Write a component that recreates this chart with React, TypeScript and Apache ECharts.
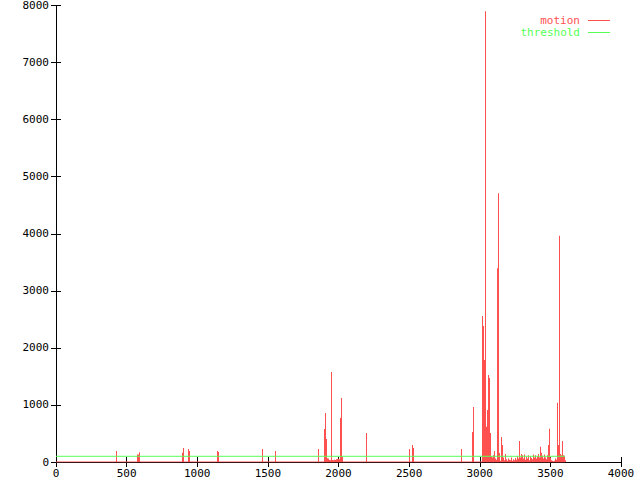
import React, { useEffect, useRef } from "react";
import * as echarts from "echarts";

const motionX = [
  427, 573, 581, 590, 890, 897, 937, 944, 1142, 1149, 1461, 1553, 1857, 1900, 1907, 1914, 1919, 1926, 1933,
  1940, 1949, 1954, 1961, 1968, 1975, 1982, 1989, 1997, 2004, 2013, 2020, 2025, 2193, 2501, 2523, 2530, 2870,
  2948, 2955, 3016, 3023, 3030, 3037, 3044, 3051, 3058, 3065, 3072,
  3080, 3087, 3094, 3101, 3108, 3115, 3122, 3129, 3136, 3144, 3151, 3158, 3165, 3172, 3179, 3186, 3193, 3200,
  3207, 3214, 3221, 3228, 3235, 3243, 3250, 3257, 3264, 3271, 3278, 3285, 3292, 3299, 3306, 3313, 3320, 3328,
  3335, 3342, 3349, 3356, 3363, 3370, 3377, 3384, 3391, 3398, 3405, 3413, 3420, 3427, 3434, 3441, 3448, 3455,
  3462, 3469, 3476, 3483, 3490, 3498, 3505, 3512, 3519, 3526, 3533, 3540, 3547, 3554, 3561, 3568, 3575, 3582,
  3589, 3597, 3604,
];
const motionY = [
  193, 130, 130, 170, 163, 245, 228, 193, 193, 175, 228, 193, 228, 578, 858, 403, 65, 60, 35,
  30, 1576, 35, 30, 40, 35, 50, 52, 55, 50, 770, 1121, 93, 508, 228, 298, 245, 228,
  525, 963, 2557, 2382, 1786, 7900, 618, 911, 1524, 1470, 508,
  100, 80, 120, 193, 60, 40, 3397, 4711, 158, 20, 438, 298, 80, 30, 140, 50, 20, 60,
  40, 30, 80, 20, 50, 30, 70, 40, 100, 60, 368, 80, 140, 120, 60, 130, 40, 90,
  60, 120, 30, 100, 70, 50, 130, 80, 120, 60, 100, 140, 80, 268, 163, 110, 60, 130,
  80, 50, 120, 298, 583, 80, 30, 20, 10, 20, 60, 40, 1039, 298, 3963, 140, 120, 368,
  120, 110, 30,
];
const thresholdValue = 100;
const dataStartX = 0;
const dataEndX = 3604;
const xTicks = { min: 0, max: 4000, interval: 500 };
const yTicks = { min: 0, max: 8000, interval: 1000 };

const RED = "#ff5050";
const GREEN = "#55ff55";
const FONT = "DejaVu Sans Mono";

export default function App() {
  const ref = useRef<HTMLDivElement>(null);
  useEffect(() => {
    if (!ref.current) return;
    const chart = echarts.init(ref.current, null, { renderer: "svg" });
    const motionData = motionX.map((x, i) => [x, motionY[i]]);
    const plain = (v: number) => String(v);
    const axisCommon = {
      type: "value" as const,
      axisLine: { show: true, lineStyle: { color: "#000", width: 1 } },
      axisTick: { show: true, inside: true, length: 5, lineStyle: { color: "#000" } },
      splitLine: { show: false },
    };
    chart.setOption({
      animation: false,
      backgroundColor: "#fff",
      grid: { left: 56, right: 19, top: 5, bottom: 18, containLabel: false },
      legend: {
        orient: "vertical",
        right: 30,
        top: 15,
        padding: 0,
        align: "right",
        itemWidth: 22,
        itemHeight: 1,
        itemGap: 1,
        icon: "rect",
        textStyle: { fontFamily: FONT, fontSize: 11, padding: [0, 3, 0, 0] },
        data: [
          { name: "motion", textStyle: { color: RED } },
          { name: "threshold", textStyle: { color: GREEN } },
        ],
      },
      xAxis: [
        {
          ...axisCommon,
          min: xTicks.min,
          max: xTicks.max,
          interval: xTicks.interval,
          axisLabel: { color: "#000", fontFamily: FONT, fontSize: 11, margin: 6, formatter: plain },
        },
        {
          ...axisCommon,
          position: "top",
          min: xTicks.min,
          max: xTicks.max,
          interval: xTicks.interval,
          axisLabel: { show: false },
        },
      ],
      yAxis: [
        {
          ...axisCommon,
          min: yTicks.min,
          max: yTicks.max,
          interval: yTicks.interval,
          axisLabel: { color: "#000", fontFamily: FONT, fontSize: 11, margin: 7, formatter: plain },
        },
        {
          ...axisCommon,
          position: "right",
          min: yTicks.min,
          max: yTicks.max,
          interval: yTicks.interval,
          axisLabel: { show: false },
        },
      ],
      series: [
        {
          name: "motion",
          type: "custom",
          itemStyle: { color: RED },
          data: motionData,
          z: 3,
          renderItem: (params: any, api: any) => {
            const x = api.value(0);
            const y = api.value(1);
            const top = api.coord([x, y]);
            const base = api.coord([x, 0]);
            const px = Math.round(top[0]);
            return {
              type: "rect",
              shape: { x: px, y: top[1], width: 1, height: base[1] - top[1] },
              style: { fill: RED },
            };
          },
        },
        {
          name: "motionBase",
          type: "line",
          data: [
            [dataStartX, 0],
            [dataEndX, 0],
          ],
          symbol: "none",
          lineStyle: { color: RED, width: 1 },
          z: 3,
          silent: true,
        },
        {
          name: "threshold",
          type: "line",
          data: [
            [dataStartX, thresholdValue],
            [dataEndX, thresholdValue],
          ],
          symbol: "none",
          itemStyle: { color: GREEN },
          lineStyle: { color: GREEN, width: 1 },
          z: 4,
        },
      ],
    });
    return () => chart.dispose();
  }, []);
  return <div ref={ref} style={{ width: 640, height: 480, position: "absolute", left: 0, top: 0 }} />;
}
